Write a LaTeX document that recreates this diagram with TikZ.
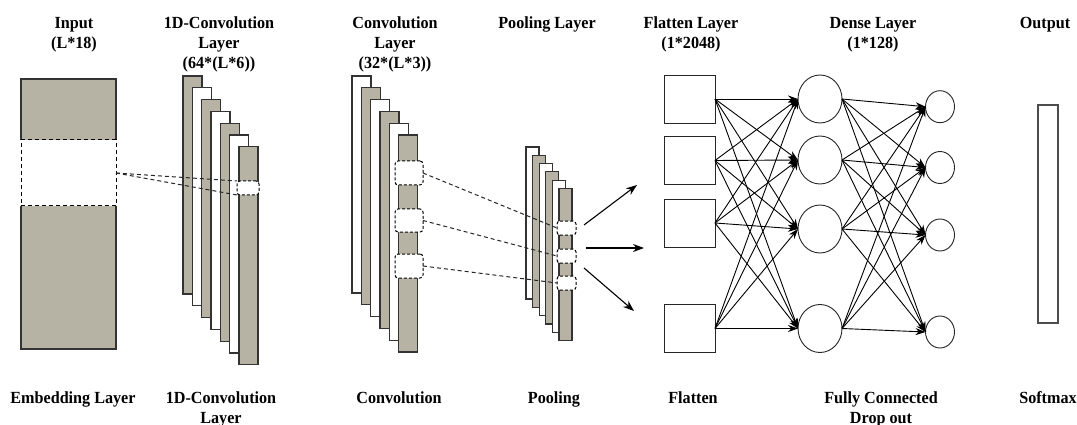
\documentclass[tikz,border=0pt]{standalone}
\usepackage{fontspec}
\setmainfont{Liberation Serif}[FakeStretch=0.95]
\usetikzlibrary{arrows.meta,shapes.geometric}
\definecolor{layergray}{RGB}{182,179,165}
\newcommand\stacklines[1]{\begin{tabular}[t]{@{}c@{}}#1\end{tabular}}
\tikzset{
 lbl/.style={font=\fontsize{17}{20}\selectfont\bfseries, inner sep=0pt, anchor=base},
 bar/.style={draw=black!80, line width=1.2pt, inner sep=0pt, outer sep=0pt},
 graybar/.style={bar, fill=layergray},
 whitebar/.style={bar, fill=white},
 embhole/.style={draw=black, fill=white, dash pattern=on 4pt off 3pt, line width=1pt, inner sep=0pt, outer sep=0pt},
 hole/.style={draw=black, fill=white, dash pattern=on 3pt off 2pt, line width=1pt, rounded corners=3pt, inner sep=0pt, outer sep=0pt},
 link/.style={draw=black!85, dash pattern=on 4pt off 3pt, line width=1pt},
 unit/.style={draw=black!85, line width=0.9pt, inner sep=0pt, outer sep=0pt, fill=white},
 neuron/.style={unit, ellipse},
 edge/.style={draw=black, line width=0.9pt, -{Stealth[length=10pt,width=7pt]}},
 flow/.style={draw=black, line width=1.1pt, -{Stealth[length=11pt,width=8pt]}},
}
\begin{document}
\begin{tikzpicture}[x=1pt,y=-1pt]
\useasboundingbox (0,0) rectangle (1077,425);

% ---- Embedding layer
\node[fill=layergray, inner sep=0pt, outer sep=0pt, minimum width=95pt, minimum height=270pt] (embed) at (68.5,214) {};
\draw[draw=black!80, line width=1.2pt] (21,140) -- (21,79) -- (116,79) -- (116,140);
\draw[draw=black!80, line width=1.2pt] (21,206) -- (21,349) -- (116,349) -- (116,206);
\node[embhole, minimum width=95pt, minimum height=66pt] (emb) at (68.5,173) {};

% ---- 1D convolution layer
\foreach \i/\s in {0/graybar,1/whitebar,2/graybar,3/whitebar,4/graybar,5/whitebar,6/graybar} {
  \pgfmathsetmacro\xc{183+9.33*\i+9.5}
  \pgfmathsetmacro\yc{76+11.8*\i+109}
  \node[\s, minimum width=19pt, minimum height=218pt] (da\i) at (\xc,\yc) {};
}
\node[hole, minimum width=22pt, minimum height=14pt] (dh) at (248,188) {};

% ---- Convolution layer
\foreach \i/\s in {0/whitebar,1/graybar,2/whitebar,3/graybar,4/whitebar,5/graybar} {
  \pgfmathsetmacro\xc{352+9.33*\i+9.5}
  \pgfmathsetmacro\yc{76+11.8*\i+108.5}
  \node[\s, minimum width=19pt, minimum height=217pt] (cv\i) at (\xc,\yc) {};
}
\node[hole, minimum width=28pt, minimum height=24pt] (ch1) at (409,173) {};
\node[hole, minimum width=28pt, minimum height=23pt] (ch2) at (409,220.5) {};
\node[hole, minimum width=28pt, minimum height=24pt] (ch3) at (409,266) {};

% ---- Pooling layer
\foreach \i/\s in {0/whitebar,1/graybar,2/whitebar,3/graybar,4/whitebar,5/graybar} {
  \pgfmathsetmacro\xc{526+6.6*\i+6.5}
  \pgfmathsetmacro\yc{147+8.3*\i+76}
  \node[\s, minimum width=13pt, minimum height=152pt] (pl\i) at (\xc,\yc) {};
}
\node[hole, minimum width=19pt, minimum height=14pt] (ph1) at (566.5,228) {};
\node[hole, minimum width=19pt, minimum height=14pt] (ph2) at (566.5,256) {};
\node[hole, minimum width=19pt, minimum height=14pt] (ph3) at (566.5,283) {};

% ---- dashed links
\draw[link] (emb.east) -- (dh.north west);
\draw[link] (emb.east) -- (dh.south west);
\draw[link] (ch1.east) -- (ph1.west);
\draw[link] (ch2.east) -- (ph2.west);
\draw[link] (ch3.east) -- (ph3.west);

% ---- pooling to flatten arrows
\coordinate (a1s) at (584,225); \coordinate (a1e) at (637,185);
\coordinate (a2s) at (586,248); \coordinate (a2e) at (644,248);
\coordinate (a3s) at (584,268); \coordinate (a3e) at (634,311);
\draw[flow] (a1s) -- (a1e);
\draw[flow] (a2s) -- (a2e);
\draw[flow] (a3s) -- (a3e);

% ---- Flatten layer
\node[unit, minimum width=51pt, minimum height=48pt] (f1) at (689.5,99) {};
\node[unit, minimum width=51pt, minimum height=48pt] (f2) at (689.5,160.5) {};
\node[unit, minimum width=51pt, minimum height=48pt] (f3) at (689.5,223) {};
\node[unit, minimum width=51pt, minimum height=48pt] (f4) at (689.5,328.5) {};

% ---- Dense layer
\node[neuron, minimum width=44pt, minimum height=48pt] (d1) at (820,99) {};
\node[neuron, minimum width=44pt, minimum height=48pt] (d2) at (820,160) {};
\node[neuron, minimum width=44pt, minimum height=48pt] (d3) at (820,229) {};
\node[neuron, minimum width=44pt, minimum height=48pt] (d4) at (820,328.5) {};

% ---- Output neurons
\node[neuron, minimum width=29pt, minimum height=32pt] (o1) at (940,106.7) {};
\node[neuron, minimum width=29pt, minimum height=32pt] (o2) at (940,167.5) {};
\node[neuron, minimum width=29pt, minimum height=32pt] (o3) at (940,235) {};
\node[neuron, minimum width=29pt, minimum height=32pt] (o4) at (940,332) {};

\foreach \a in {1,...,4} {
  \foreach \b in {1,...,4} {
    \draw[edge] (f\a.east) -- (d\b.west);
    \draw[edge] (d\a.east) -- (o\b.west);
  }
}

% ---- Softmax output bar
\node[draw=black!70, line width=1.1pt, fill=white, inner sep=0pt, minimum width=20pt, minimum height=218pt] (out) at (1048,214) {};

% ---- labels (top)
\node[lbl] (t1) at (74,29) {\stacklines{Input\\(L*18)}};
\node[lbl] (t2) at (219,29) {\stacklines{1D-Convolution\\Layer\\(64*(L*6))}};
\node[lbl] (t3) at (395,29) {\stacklines{Convolution\\Layer\\(32*(L*3))}};
\node[lbl] (t4) at (547,29) {Pooling Layer};
\node[lbl] (t5) at (691,29) {\stacklines{Flatten Layer\\(1*2048)}};
\node[lbl] (t6) at (873,29) {\stacklines{Dense Layer\\(1*128)}};
\node[lbl] (t7) at (1045,29) {Output};

% ---- labels (bottom)
\node[lbl] (b1) at (73,403) {Embedding Layer};
\node[lbl] (b2) at (221,403) {\stacklines{1D-Convolution\\Layer}};
\node[lbl] (b3) at (399,403) {Convolution};
\node[lbl] (b4) at (554,403) {Pooling};
\node[lbl] (b5) at (693,403) {Flatten};
\node[lbl] (b6) at (881,403) {\stacklines{Fully Connected\\Drop out}};
\node[lbl] (b7) at (1048,403) {Softmax};
\end{tikzpicture}
\end{document}
